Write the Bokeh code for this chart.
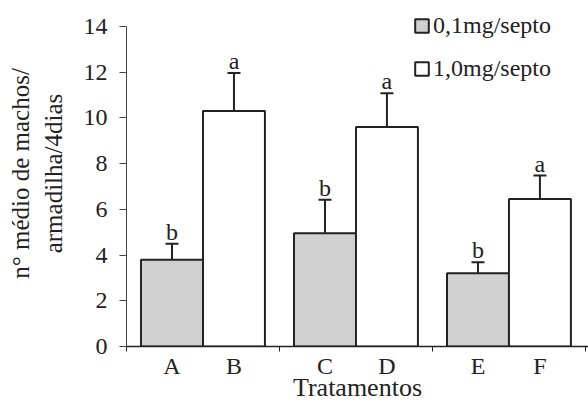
from bokeh.plotting import figure
from bokeh.models import (ColumnDataSource, Range1d, FixedTicker, Whisker, TeeHead,
                          Legend, LegendItem)
from bokeh.core.properties import value
from bokeh.embed import file_html
from bokeh.resources import INLINE

# ---- data ----
categories = ["A", "B", "C", "D", "E", "F"]
groups = [0, 1, 2]
low_dose_labels = ["A", "C", "E"]      # 0,1mg/septo
high_dose_labels = ["B", "D", "F"]     # 1,0mg/septo
low_dose_mean = [3.8, 4.95, 3.2]
low_dose_err_lo = [3.06, 3.32, 2.74]
low_dose_err_hi = [4.49, 6.42, 3.69]
high_dose_mean = [10.3, 9.6, 6.45]
high_dose_err_lo = [8.63, 8.09, 5.29]
high_dose_err_hi = [11.97, 11.08, 7.48]
low_dose_letters = ["b", "b", "b"]
high_dose_letters = ["a", "a", "a"]
y_ticks = [0, 2, 4, 6, 8, 10, 12, 14]
legend_labels = ["0,1mg/septo", "1,0mg/septo"]

FONT = "Times New Roman"
FS = "24px"
INK = "#222222"
BAR_W = 0.405

x_low = [g + 0.5 - BAR_W / 2 for g in groups]
x_high = [g + 0.5 + BAR_W / 2 for g in groups]

src_low = ColumnDataSource(dict(x=x_low, top=low_dose_mean, lower=low_dose_err_lo,
                                upper=low_dose_err_hi, letter=low_dose_letters))
src_high = ColumnDataSource(dict(x=x_high, top=high_dose_mean, lower=high_dose_err_lo,
                                 upper=high_dose_err_hi, letter=high_dose_letters))

p = figure(width=588, height=404, output_backend="svg", toolbar_location=None,
           x_range=Range1d(0, 3.02), y_range=Range1d(0, 15.1375),
           min_border_left=126, min_border_right=0, min_border_top=0,
           min_border_bottom=58)
p.outline_line_color = None
p.grid.visible = False
p.background_fill_color = "white"

r_low = p.vbar(x="x", top="top", width=BAR_W, source=src_low,
               fill_color="#d0d0d0", line_color=INK, line_width=2)
r_high = p.vbar(x="x", top="top", width=BAR_W, source=src_high,
                fill_color="white", line_color=INK, line_width=2)

for src in (src_low, src_high):
    w = Whisker(source=src, base="x", upper="upper", lower="lower",
                line_color=INK, line_width=2,
                upper_head=TeeHead(size=13, line_color=INK, line_width=2),
                lower_head=TeeHead(size=13, line_color=INK, line_width=2))
    p.add_layout(w)
    p.text(x="x", y="upper", text="letter", source=src, text_align="center",
           text_baseline="alphabetic", y_offset=-12, text_font=value(FONT),
           text_font_size=FS, text_color=INK)

# x axis: letters under bars, ticks between groups
bar_pos = x_low + x_high
bar_lab = low_dose_labels + high_dose_labels
order = sorted(range(len(bar_pos)), key=lambda i: bar_pos[i])
ticks = [bar_pos[i] for i in order]
labs = [bar_lab[i] for i in order]
xa = p.xaxis[0]
xa.ticker = FixedTicker(ticks=ticks, minor_ticks=[g for g in groups] + [3])
xa.major_label_overrides = {t: l for t, l in zip(ticks, labs)}
xa.major_tick_line_color = None
xa.minor_tick_out = 5
xa.minor_tick_in = 0
xa.minor_tick_line_color = INK
xa.axis_line_color = INK
xa.axis_line_width = 1.5
xa.major_label_standoff = 0
xa.major_label_text_font = FONT
xa.major_label_text_font_size = FS
xa.major_label_text_color = INK
xa.axis_label = "Tratamentos"
xa.axis_label_text_font = FONT
xa.axis_label_text_font_size = "26px"
xa.axis_label_text_font_style = "normal"
xa.axis_label_text_color = INK
xa.axis_label_standoff = -9

ya = p.yaxis[0]
ya.bounds = (0, 14)
ya.ticker = FixedTicker(ticks=y_ticks)
ya.major_tick_out = 7
ya.major_tick_in = 0
ya.minor_tick_line_color = None
ya.major_tick_line_color = "#444444"
ya.axis_line_color = "#444444"
ya.major_label_standoff = 12
ya.major_label_text_font = FONT
ya.major_label_text_font_size = FS
ya.major_label_text_color = INK
ya.axis_label = "n° médio de machos/\narmadilha/4dias"
ya.axis_label_text_font = FONT
ya.axis_label_text_font_size = "25px"
ya.axis_label_text_font_style = "normal"
ya.axis_label_text_color = INK
ya.axis_label_standoff = 14

legend = Legend(items=[LegendItem(label=legend_labels[0], renderers=[r_low]),
                       LegendItem(label=legend_labels[1], renderers=[r_high])],
                location=(287, 263), orientation="vertical",
                glyph_width=17, glyph_height=17, label_standoff=3,
                label_height=30, spacing=13, padding=0, margin=0,
                border_line_color=None, background_fill_alpha=0,
                label_text_font="Liberation Serif", label_text_font_size=FS,
                label_text_color=INK)
p.add_layout(legend)

open("out.html", "w").write(file_html(p, INLINE))
